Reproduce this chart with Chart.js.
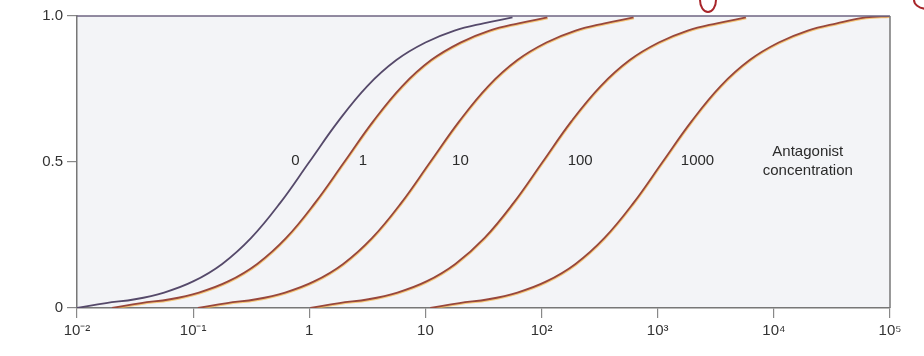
<!DOCTYPE html>
<html>
<head>
<meta charset="utf-8">
<script src="https://cdn.jsdelivr.net/npm/chart.js@4/dist/chart.umd.min.js"></script>
<style>
html,body{margin:0;padding:0;background:#fff}
#wrap{width:924px;height:356px}
</style>
</head>
<body>
<div id="wrap"><canvas id="dr" width="924" height="356"></canvas></div>
<script>
// agonist concentration (x) and fractional response (y), one pair per antagonist level
const conc0=[0.01,0.0178,0.0316,0.0562,0.1,0.178,0.316,0.562,1,1.78,3.16,5.62,10,17.8,31.6,56.2];
const resp0=[0,0.017,0.03,0.053,0.091,0.151,0.24,0.36,0.5,0.64,0.76,0.849,0.909,0.95,0.975,0.995];
const conc1=[0.02,0.0356,0.0632,0.112,0.2,0.356,0.632,1.12,2,3.56,6.32,11.2,20,35.6,63.2,112];
const resp1=[0,0.017,0.03,0.053,0.091,0.151,0.24,0.36,0.5,0.64,0.76,0.849,0.909,0.95,0.975,0.995];
const conc10=[0.11,0.196,0.348,0.619,1.1,1.96,3.48,6.19,11,19.6,34.8,61.9,110,196,348,619];
const resp10=[0,0.017,0.03,0.053,0.091,0.151,0.24,0.36,0.5,0.64,0.76,0.849,0.909,0.95,0.975,0.995];
const conc100=[1.02,1.81,3.23,5.74,10.2,18.1,32.3,57.4,102,181,323,574,1020,1810,3230,5740];
const resp100=[0,0.017,0.03,0.053,0.091,0.151,0.24,0.36,0.5,0.64,0.76,0.849,0.909,0.95,0.975,0.995];
const conc1000=[11,19.6,34.8,61.9,110,196,348,619,1100,1960,3480,6190,11000,19600,34800,61900,100000];
const resp1000=[0,0.017,0.03,0.053,0.091,0.151,0.24,0.36,0.5,0.64,0.76,0.849,0.909,0.95,0.975,0.995,1];

const curveNames=['0','1','10','100','1000'];
const xTickValues=[0.01,0.1,1,10,100,1000,10000,100000];
const xTickLabels=['10\u207B\u00B2','10\u207B\u00B9','1','10','10\u00B2','10\u00B3','10\u2074','10\u2075'];
const yTickValues=[0,0.5,1];
const yTickLabels=['0','0.5','1.0'];

const pts=(xs,ys)=>xs.map((x,i)=>({x:x,y:ys[i]}));
const series=[pts(conc0,resp0),pts(conc1,resp1),pts(conc10,resp10),pts(conc100,resp100),pts(conc1000,resp1000)];

// curve labels anchored in data units
const notes=[
  {t:'0',x:0.76,y:0.505},{t:'1',x:2.9,y:0.505},{t:'10',x:20,y:0.505},
  {t:'100',x:215,y:0.505},{t:'1000',x:2200,y:0.505},
  {t:'Antagonist',x:19600,y:0.535},{t:'concentration',x:19600,y:0.468}
];

const FONT='"Liberation Sans", Arial, sans-serif';

const deco={
  id:'deco',
  beforeDraw(c){
    const a=c.chartArea,g=c.ctx;
    g.save();g.fillStyle='#f3f4f7';g.fillRect(a.left,a.top,a.right-a.left,a.bottom-a.top);g.restore();
  },
  beforeDatasetDraw(c,args){
    const g=c.ctx;g.save();
    if(args.index>0){g.shadowColor='rgba(245,180,70,0.7)';g.shadowOffsetX=0.5;g.shadowOffsetY=1;g.shadowBlur=0;}
  },
  afterDatasetDraw(c){c.ctx.restore();},
  afterDraw(c){
    const a=c.chartArea,g=c.ctx,sx=c.scales.x,sy=c.scales.y;
    g.save();
    g.lineWidth=1.5;
    g.strokeStyle='#6e6482';
    g.beginPath();g.moveTo(a.left,a.top);g.lineTo(a.right,a.top);g.stroke();
    g.strokeStyle='#777';
    g.beginPath();g.moveTo(a.right,a.top);g.lineTo(a.right,a.bottom);g.stroke();
    g.fillStyle='#2b2b2b';g.font='15px '+FONT;g.textAlign='center';g.textBaseline='middle';
    notes.forEach(n=>g.fillText(n.t,sx.getPixelForValue(n.x),sy.getPixelForValue(n.y)));
    // pen marks on the scanned page
    g.strokeStyle='#a8252a';g.lineWidth=2;
    g.beginPath();g.ellipse(708,0,8,12,0,0,Math.PI);g.stroke();
    g.beginPath();g.ellipse(928,0,14,9,0,0.2,Math.PI);g.stroke();
    g.restore();
  }
};

new Chart(document.getElementById('dr'),{
  type:'line',
  data:{datasets:series.map((d,i)=>({
    label:curveNames[i],data:d,
    borderColor:i===0?'#55496a':'#98473b',
    borderWidth:1.8,pointRadius:0,fill:false,
    tension:0.4
  }))},
  options:{
    responsive:false,animation:false,
    layout:{padding:{left:0,top:16,right:34,bottom:0}},
    plugins:{legend:{display:false},tooltip:{enabled:false}},
    scales:{
      x:{
        type:'logarithmic',min:0.01,max:100000,
        afterBuildTicks:s=>{s.ticks=xTickValues.map(v=>({value:v}));},
        afterFit:s=>{s.height=48;},
        border:{display:true,color:'#777',width:1.5},
        grid:{drawOnChartArea:false,drawTicks:true,tickLength:10,color:'#888',lineWidth:1.2},
        ticks:{autoSkip:false,maxRotation:0,padding:4,color:'#333',font:{family:FONT,size:15},
          callback:(v,i)=>xTickLabels[i]}
      },
      y:{
        type:'linear',min:0,max:1,
        afterBuildTicks:s=>{s.ticks=yTickValues.map(v=>({value:v}));},
        afterFit:s=>{s.width=77;},
        border:{display:true,color:'#777',width:1.5},
        grid:{drawOnChartArea:false,drawTicks:true,tickLength:10,color:'#888',lineWidth:1.2},
        ticks:{padding:4,color:'#333',font:{family:FONT,size:15},
          callback:(v,i)=>yTickLabels[i]}
      }
    }
  },
  plugins:[deco]
});
</script>
</body>
</html>
